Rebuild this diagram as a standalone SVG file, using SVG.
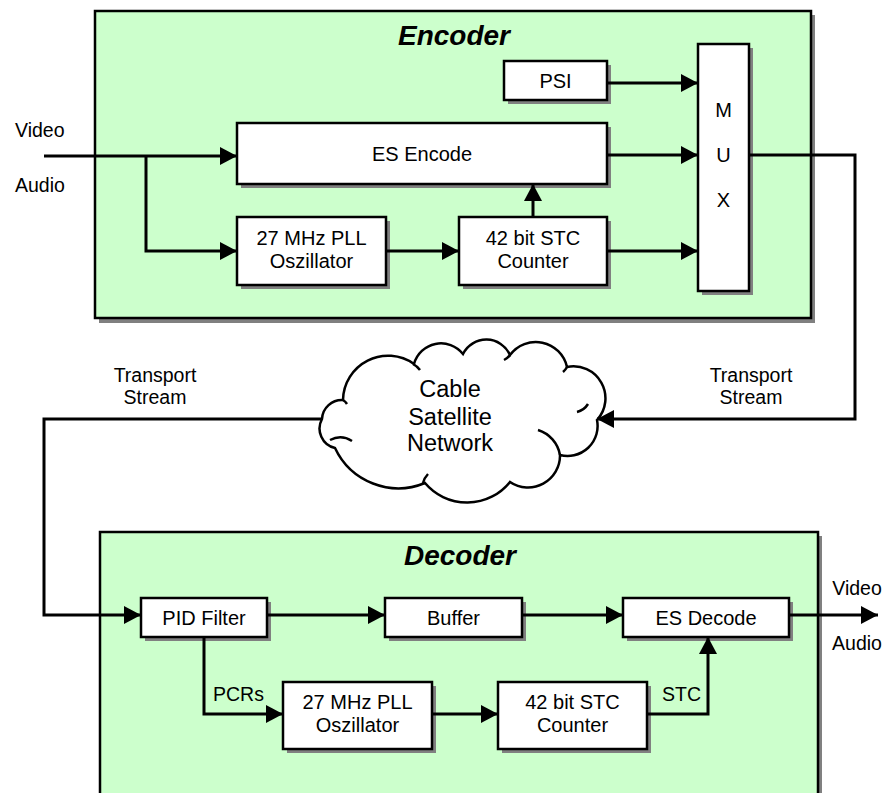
<svg xmlns="http://www.w3.org/2000/svg" width="889" height="793" viewBox="0 0 889 793">
<defs>
<marker id="arr" markerUnits="userSpaceOnUse" markerWidth="18" markerHeight="18" refX="17" refY="9" orient="auto">
<path d="M0,0 L17,9 L0,18 z" fill="#000"/>
</marker>
<style>
.sh{fill:#808080}
.bx{fill:#fff;stroke:#000;stroke-width:2.5}
.gb{fill:#ccffcc;stroke:#000;stroke-width:2.5}
.t{font-family:"Liberation Sans",Arial,sans-serif;font-size:20px;fill:#000;text-anchor:middle}
.l{font-family:"Liberation Sans",Arial,sans-serif;font-size:19.5px;fill:#000;text-anchor:middle}
.h{font-family:"Liberation Sans",Arial,sans-serif;font-size:28px;font-weight:bold;font-style:italic;fill:#000;text-anchor:middle}
.cl{font-family:"Liberation Sans",Arial,sans-serif;font-size:23.5px;fill:#000;text-anchor:middle}
.c{fill:none;stroke:#000;stroke-width:3}
.a{marker-end:url(#arr)}
</style>
</defs>
<rect width="889" height="793" fill="#fff"/>

<g id="encoder">
<rect class="sh" x="99" y="15" width="716" height="308"/>
<rect class="gb" x="95" y="11" width="716" height="307"/>
<text class="h" x="454" y="45">Encoder</text>
</g>
<g id="decoder">
<rect class="sh" x="104" y="536" width="718" height="270"/>
<rect class="gb" x="100" y="532" width="718" height="270"/>
<text class="h" x="460" y="565">Decoder</text>
</g>

<g id="psi">
<rect class="sh" x="508" y="65" width="103" height="39"/>
<rect class="bx" x="504" y="61" width="103" height="39"/>
<text class="t" x="555.5" y="88">PSI</text>
</g>
<g id="es-encode">
<rect class="sh" x="241" y="127" width="370" height="61"/>
<rect class="bx" x="237" y="123" width="370" height="61"/>
<text class="t" x="422" y="161">ES Encode</text>
</g>
<g id="mux">
<rect class="sh" x="702" y="48" width="51" height="247"/>
<rect class="bx" x="698" y="44" width="51" height="247"/>
<text class="t" x="723.5" y="117">M</text>
<text class="t" x="723.5" y="162">U</text>
<text class="t" x="723.5" y="207">X</text>
</g>
<g id="enc-pll">
<rect class="sh" x="241" y="221" width="149" height="68"/>
<rect class="bx" x="237" y="217" width="149" height="68"/>
<text class="t" x="311.5" y="245">27 MHz PLL</text>
<text class="t" x="311.5" y="268">Oszillator</text>
</g>
<g id="enc-stc">
<rect class="sh" x="463" y="221" width="148" height="68"/>
<rect class="bx" x="459" y="217" width="148" height="68"/>
<text class="t" x="533" y="245">42 bit STC</text>
<text class="t" x="533" y="268">Counter</text>
</g>

<g id="pid">
<rect class="sh" x="145" y="602" width="126" height="39"/>
<rect class="bx" x="141" y="598" width="126" height="39"/>
<text class="t" x="204" y="625">PID Filter</text>
</g>
<g id="buffer">
<rect class="sh" x="389" y="602" width="137" height="39"/>
<rect class="bx" x="385" y="598" width="137" height="39"/>
<text class="t" x="453.5" y="625">Buffer</text>
</g>
<g id="es-decode">
<rect class="sh" x="627" y="602" width="166" height="39"/>
<rect class="bx" x="623" y="598" width="166" height="39"/>
<text class="t" x="706" y="625">ES Decode</text>
</g>
<g id="dec-pll">
<rect class="sh" x="287" y="686" width="149" height="67"/>
<rect class="bx" x="283" y="682" width="149" height="67"/>
<text class="t" x="357.5" y="709">27 MHz PLL</text>
<text class="t" x="357.5" y="732">Oszillator</text>
</g>
<g id="dec-stc">
<rect class="sh" x="502" y="686" width="149" height="67"/>
<rect class="bx" x="498" y="682" width="149" height="67"/>
<text class="t" x="572.5" y="709">42 bit STC</text>
<text class="t" x="572.5" y="732">Counter</text>
</g>

<g id="cloud">
<path fill="#fff" stroke="#000" stroke-width="2.5" d="M322,419 A20,20 0 0 1 343,400 A45,45 0 0 1 414,364 A28,28 0 0 1 463,354 A26,26 0 0 1 510,355 A32,32 0 0 1 567,367 A32,32 0 0 1 597,420 A30,30 0 0 1 560,455 A32,32 0 0 1 510,482 A55,55 0 0 1 425,483 A70,70 0 0 1 335,448 A20,20 0 0 1 322,419 z"/>
<path fill="none" stroke="#000" stroke-width="2.5" d="M330,440 A22,22 0 0 1 352,441 M538,430 A32,32 0 0 1 560,455 M423,483 A20,20 0 0 1 428,474 M413,364 A20,20 0 0 1 420,370 M510,355 A18,18 0 0 1 504,360 M567,367 A16,16 0 0 1 563,372 M588,404 A18,18 0 0 1 577,412 M343,400 A12,12 0 0 1 347,404"/>
<text class="cl" x="450" y="397">Cable</text>
<text class="cl" x="450" y="425">Satellite</text>
<text class="cl" x="450" y="451">Network</text>
</g>

<g id="labels">
<text class="l" x="15" y="137" style="text-anchor:start">Video</text>
<text class="l" x="15" y="192" style="text-anchor:start">Audio</text>
<text class="l" x="155" y="382">Transport</text>
<text class="l" x="155" y="404">Stream</text>
<text class="l" x="751" y="382">Transport</text>
<text class="l" x="751" y="404">Stream</text>
<text class="l" x="213" y="701" style="text-anchor:start">PCRs</text>
<text class="l" x="662" y="701" style="text-anchor:start">STC</text>
<text class="l" x="857" y="595">Video</text>
<text class="l" x="857" y="650">Audio</text>
</g>

<g id="connectors">
<path class="c a" d="M44,156 H237"/>
<path class="c a" d="M146,156 V251 H237"/>
<path class="c a" d="M386,251 H459"/>
<path class="c a" d="M533,217 V184"/>
<path class="c a" d="M607,83 H698"/>
<path class="c a" d="M607,155 H698"/>
<path class="c a" d="M607,251 H698"/>
<path class="c a" d="M749,155 H855 V419 H597"/>
<path class="c a" d="M322,419 H44 V615 H141"/>
<path class="c a" d="M267,615 H385"/>
<path class="c a" d="M522,615 H623"/>
<path class="c a" d="M204,637 V714 H283"/>
<path class="c a" d="M432,714 H498"/>
<path class="c a" d="M647,714 H708 V637"/>
<path class="c a" d="M789,615 H878"/>
</g>
</svg>
